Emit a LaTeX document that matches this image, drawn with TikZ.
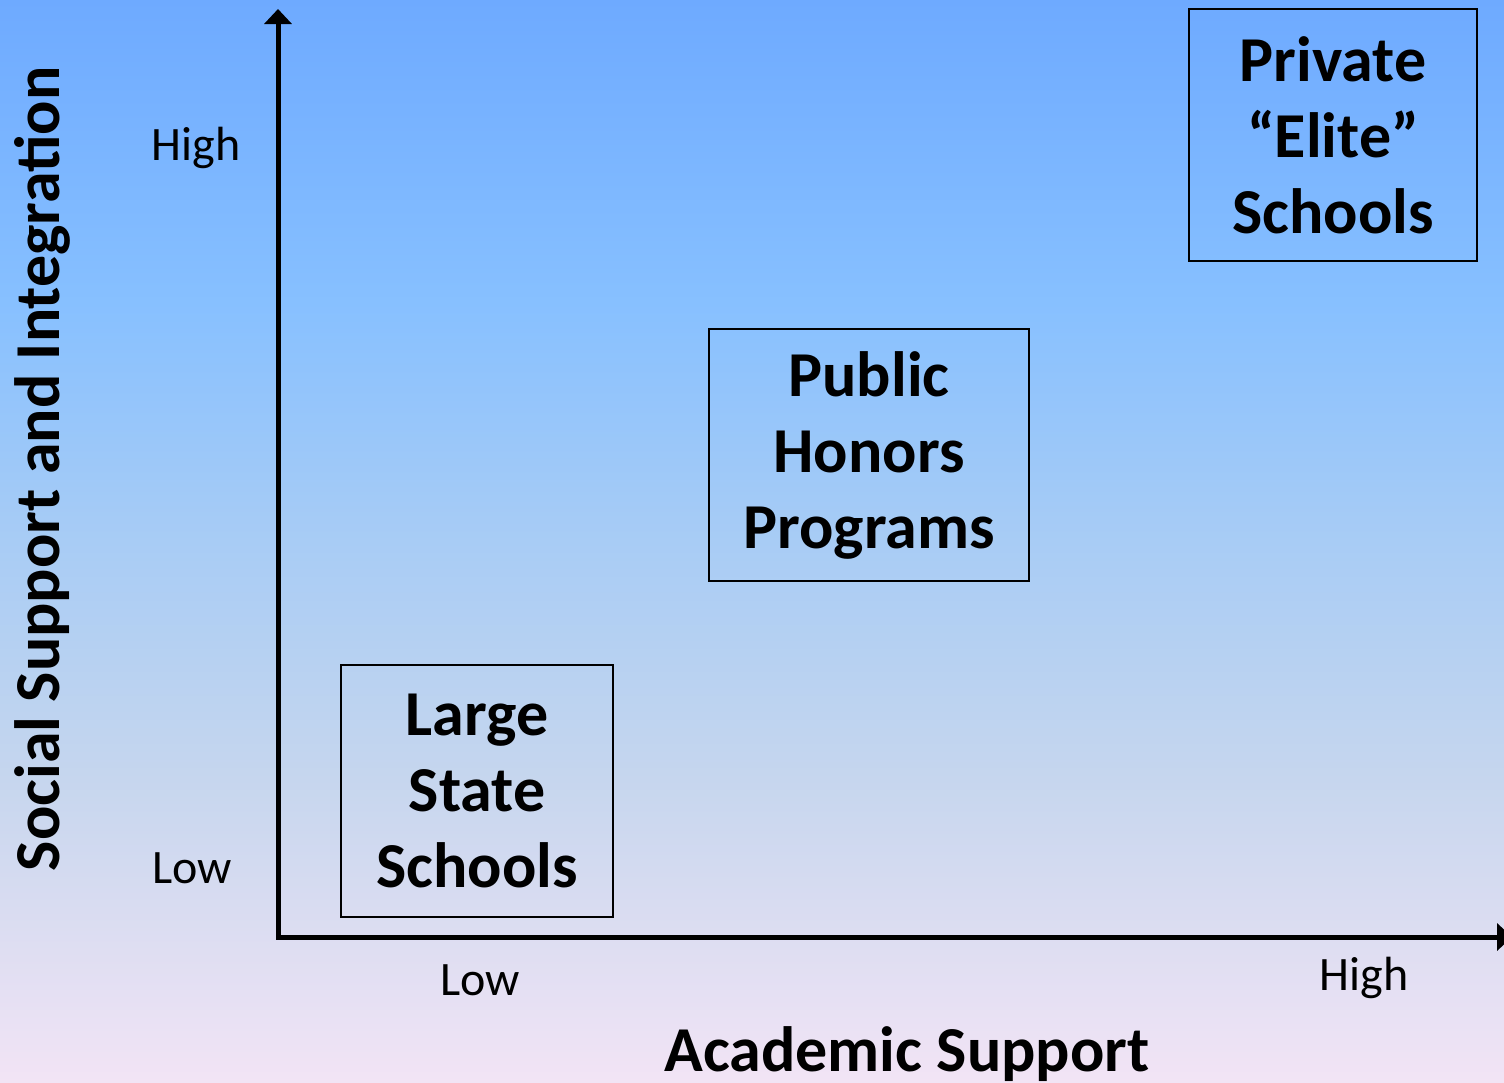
\documentclass[tikz,border=0pt]{standalone}
\usepackage{fontspec}
\setmainfont{Carlito}
\usetikzlibrary{arrows.meta,positioning}
\definecolor{bgA}{RGB}{242,228,245}
\definecolor{bgB}{RGB}{198,214,238}
\definecolor{bgC}{RGB}{168,204,245}
\definecolor{bgD}{RGB}{135,192,255}
\definecolor{bgE}{RGB}{110,170,255}
\pgfdeclareverticalshading{chart bg}{100bp}{color(0bp)=(bgA); color(25bp)=(bgA);
	color(39bp)=(bgB); color(50bp)=(bgC); color(61bp)=(bgD);
	color(75bp)=(bgE); color(100bp)=(bgE)}
\tikzset{
	chart/.style={x=0.5pt, y=-0.5pt},
	axis/.style={line width=2.5pt, -{Triangle[length=7.5pt,width=13.5pt]}},
	school box/.style={draw, line width=1.1pt, align=center, inner sep=0pt,
		font=\bfseries\fontsize{32}{38}\selectfont},
	tick label/.style={font=\fontsize{24}{28}\selectfont, inner sep=0pt},
	axis label/.style={font=\bfseries\fontsize{32}{38}\selectfont, inner sep=0pt}
}
\begin{document}
\begin{tikzpicture}[chart]
   \shade[shading=chart bg] (0,0) rectangle (1504,1082);
   \useasboundingbox (0,0) rectangle (1504,1082);
   % axes
   \coordinate (origin) at (278,937);
   \coordinate (ytip) at (278,9);
   \coordinate (xstart) at (276,937);
   \coordinate (xtip) at (1512,937);
   \draw[axis] (origin) -- (ytip);
   \draw[axis] (xstart) -- (xtip);
   % schools
   \node[school box, minimum width=136pt, minimum height=126pt] (state) at (477,791) {Large\\State\\Schools};
   \node[school box, minimum width=160pt, minimum height=126pt] (honors) at (869,455) {Public\\Honors\\Programs};
   \node[school box, minimum width=144pt, minimum height=126pt] (elite) at (1333,135) {Private\\``Elite''\\Schools};
   % ticks and labels
   \node[tick label] (yhigh) at (196,148) {High};
   \node[tick label] (ylow) at (192,868) {Low};
   \node[tick label] (xlow) at (480,980) {Low};
   \node[tick label] (xhigh) at (1364,978) {High};
   \node[axis label] (xname) at (907,1054) {Academic Support};
   \node[axis label, rotate=90] (yname) at (42,469) {Social Support and Integration};
\end{tikzpicture}
\end{document}
